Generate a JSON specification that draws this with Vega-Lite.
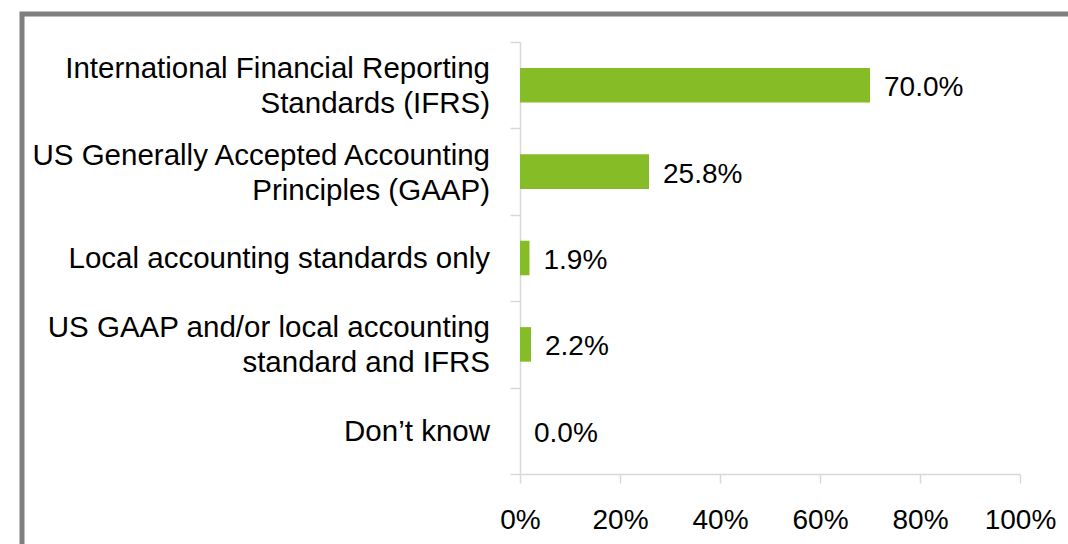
{
  "$schema": "https://vega.github.io/schema/vega-lite/v6.json",
  "width": 1050,
  "height": 534,
  "autosize": {"type": "none"},
  "padding": {"left": 22, "top": 14, "right": -4, "bottom": -4},
  "background": "white",
  "config": {
    "view": {"stroke": "#808080", "strokeWidth": 5, "fill": "white"},
    "font": "Liberation Sans"
  },
  "data": {
    "values": [
      {"category": "International Financial Reporting Standards (IFRS)", "label": "International Financial Reporting\nStandards (IFRS)", "share": 0.700},
      {"category": "US Generally Accepted Accounting Principles (GAAP)", "label": "US Generally Accepted Accounting\nPrinciples (GAAP)", "share": 0.258},
      {"category": "Local accounting standards only", "label": "Local accounting standards only", "share": 0.019},
      {"category": "US GAAP and/or local accounting standard and IFRS", "label": "US GAAP and/or local accounting\nstandard and IFRS", "share": 0.022},
      {"category": "Don’t know", "label": "Don’t know", "share": 0.0}
    ]
  },
  "encoding": {
    "y": {
      "field": "category",
      "type": "nominal",
      "sort": null,
      "scale": {"range": [28, 460], "paddingInner": 0, "paddingOuter": 0},
      "axis": {
        "title": null,
        "offset": -498,
        "domainColor": "#d9d9d9",
        "domainWidth": 1.5,
        "tickColor": "#d9d9d9",
        "tickWidth": 1.5,
        "tickSize": 10,
        "tickBand": "extent",
        "labels": false
      }
    }
  },
  "layer": [
    {
      "mark": {"type": "bar", "color": "#86bc25", "height": {"band": 0.4}},
      "encoding": {
        "x": {
          "field": "share",
          "type": "quantitative",
          "scale": {"domain": [0, 1], "range": [498, 998], "nice": false},
          "axis": {
            "title": null,
            "offset": -74,
            "format": ".0%",
            "values": [0, 0.2, 0.4, 0.6, 0.8, 1],
            "grid": false,
            "domainColor": "#d9d9d9",
            "domainWidth": 1.5,
            "tickColor": "#d9d9d9",
            "tickWidth": 1.5,
            "tickSize": 9,
            "labelPadding": 23,
            "labelFontSize": 28,
            "labelColor": "#000000",
            "labelFlush": false,
            "labelOverlap": false
          }
        }
      }
    },
    {
      "mark": {"type": "text", "align": "left", "baseline": "middle", "dx": 14, "dy": 3, "fontSize": 28, "color": "#000000"},
      "encoding": {
        "x": {"field": "share", "type": "quantitative"},
        "text": {"field": "share", "type": "quantitative", "format": ".1%"}
      }
    },
    {
      "transform": [{"filter": "indexof(datum.label, '\\n') >= 0"}],
      "mark": {"type": "text", "align": "right", "baseline": "middle", "dx": -30, "dy": -16, "fontSize": 29.5, "lineHeight": 35, "lineBreak": "\n", "color": "#000000"},
      "encoding": {
        "x": {"datum": 0, "type": "quantitative"},
        "text": {"field": "label", "type": "nominal"}
      }
    },
    {
      "transform": [{"filter": "indexof(datum.label, '\\n') < 0"}],
      "mark": {"type": "text", "align": "right", "baseline": "middle", "dx": -30, "dy": 1, "fontSize": 29.5, "color": "#000000"},
      "encoding": {
        "x": {"datum": 0, "type": "quantitative"},
        "text": {"field": "label", "type": "nominal"}
      }
    }
  ]
}
